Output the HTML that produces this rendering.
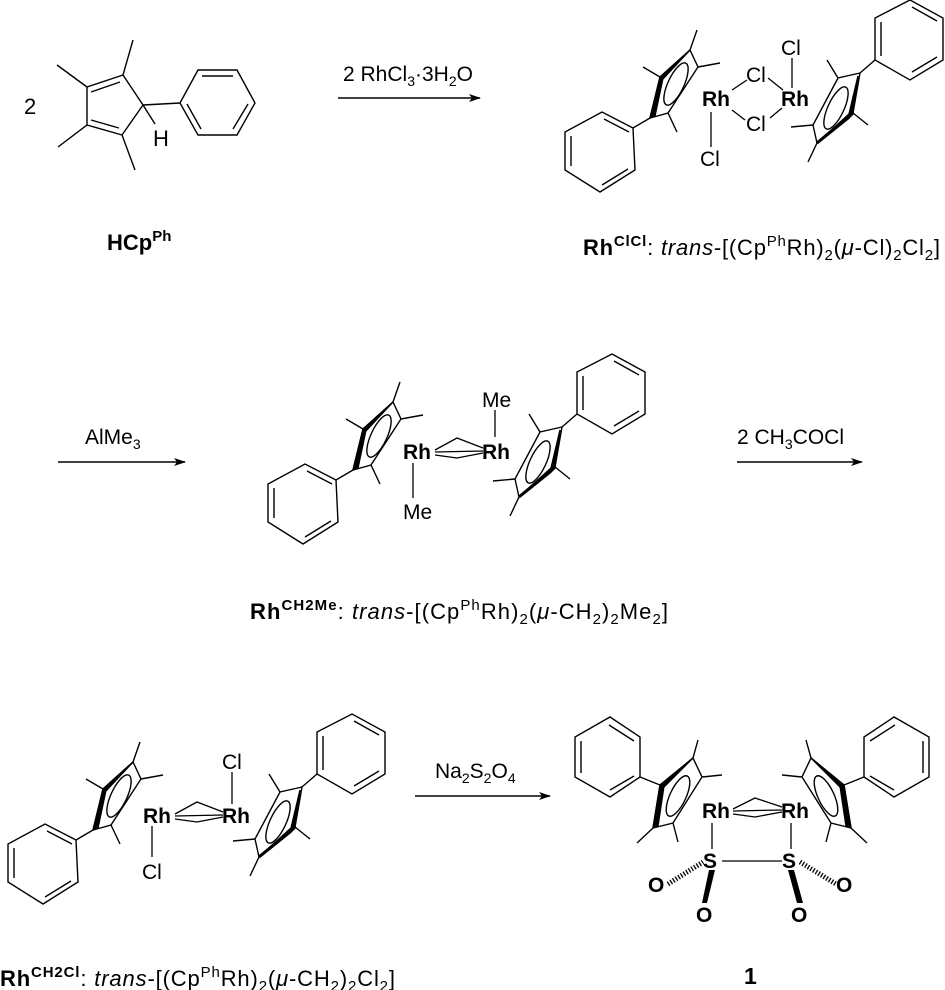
<!DOCTYPE html>
<html><head><meta charset="utf-8"><style>
html,body{margin:0;padding:0;background:#fff;}
svg{display:block;}
text{font-family:"Liberation Sans",Arial,sans-serif;fill:#000;}
.b{font-weight:bold;}
</style></head><body>
<svg width="945" height="990" viewBox="0 0 945 990" xmlns="http://www.w3.org/2000/svg">
<defs>
<marker id="ah" markerWidth="12" markerHeight="8" refX="11" refY="4" orient="auto" markerUnits="userSpaceOnUse">
<path d="M0,0 L12,4 L0,8 L3,4 Z" fill="#000"/></marker>
<g id="uL" stroke="#000" stroke-width="1.4" fill="none">
<polygon points="690,50 698,67 668,113 650,118 660,77"/>
<path d="M660,77 L650,118 L655,116 L663,78 Z" fill="#000"/>
<path d="M660,77 L690,50 L662,80 Z" fill="#000"/>
<ellipse cx="676" cy="84" rx="8" ry="23" transform="rotate(25 676 84)"/>
<line x1="690" y1="50" x2="697" y2="30"/>
<line x1="698" y1="67" x2="720" y2="63"/>
<line x1="660" y1="77" x2="643" y2="67"/>
<line x1="668" y1="113" x2="677" y2="132"/>
<line x1="650" y1="118" x2="633" y2="128"/>
<polygon points="633,128 602,112 565,132 565,170 600,192 635,170"/>
<line x1="604" y1="119" x2="629" y2="132"/>
<line x1="571" y1="136" x2="571" y2="166"/>
<line x1="602" y1="185" x2="628" y2="169"/>
</g>
<g id="uR" stroke="#000" stroke-width="1.4" fill="none">
<polygon points="860,73 838,78 813,125 817,143 853,113"/>
<path d="M817,143 L853,113 L858,76 L849,114 Z" fill="#000"/>
<path d="M817,143 L853,113 L848,118 Z" fill="#000" stroke-width="3"/>
<ellipse cx="836" cy="108" rx="8" ry="23" transform="rotate(25 836 108)"/>
<line x1="838" y1="78" x2="827" y2="60"/>
<line x1="813" y1="125" x2="791" y2="127"/>
<line x1="817" y1="143" x2="808" y2="162"/>
<line x1="853" y1="113" x2="868" y2="125"/>
<line x1="860" y1="73" x2="875" y2="60"/>
<polygon points="875,60 875,18 910,0 943,18 943,60 910,80"/>
<line x1="881" y1="56" x2="881" y2="22"/>
<line x1="912" y1="7" x2="937" y2="21"/>
<line x1="937" y1="57" x2="912" y2="72"/>
</g>
<g id="u1" stroke="#000" stroke-width="1.4" fill="none">
<polygon points="660,785 693,758 702,777 673,823 653,828"/>
<path d="M660,785 L653,828 L658,826 L664,786 Z" fill="#000"/>
<path d="M660,785 L693,758 L662,789 Z" fill="#000"/>
<ellipse cx="678" cy="796" rx="8" ry="22" transform="rotate(25 678 796)"/>
<line x1="693" y1="758" x2="698" y2="740"/>
<line x1="702" y1="777" x2="722" y2="775"/>
<line x1="673" y1="823" x2="678" y2="842"/>
<line x1="653" y1="828" x2="637" y2="843"/>
<line x1="660" y1="785" x2="640" y2="777"/>
<polygon points="640,777 640,737 610,717 575,737 575,777 610,797"/>
<line x1="634" y1="741" x2="609" y2="725"/>
<line x1="581" y1="741" x2="581" y2="773"/>
<line x1="610" y1="790" x2="634" y2="776"/>
</g>
</defs>

<!-- HCpPh -->
<text x="24" y="114" font-size="22">2</text>
<g stroke="#000" stroke-width="1.4" fill="none">
<polygon points="123,75 87,87 87,125 122,135 143,105"/>
<line x1="91" y1="92" x2="120" y2="82"/>
<line x1="91" y1="120" x2="119" y2="128"/>
<line x1="123" y1="75" x2="133" y2="40"/>
<line x1="87" y1="87" x2="57" y2="65"/>
<line x1="87" y1="125" x2="58" y2="147"/>
<line x1="122" y1="135" x2="135" y2="170"/>
<line x1="143" y1="105" x2="180" y2="103"/>
<line x1="143" y1="105" x2="155" y2="124"/>
<polygon points="180,103 198,70 237,70 255,103 237,135 198,135"/>
<line x1="202" y1="76" x2="233" y2="76"/>
<line x1="248" y1="104" x2="233" y2="129"/>
<line x1="187" y1="104" x2="201" y2="129"/>
</g>
<text x="153" y="146" font-size="22">H</text>
<text x="107" y="250" font-size="22" class="b">HCp<tspan font-size="15" dy="-9">Ph</tspan></text>

<!-- arrow 1 -->
<text x="343" y="81" font-size="21">2 RhCl<tspan font-size="14" dy="5">3</tspan><tspan dy="-5">·3H</tspan><tspan font-size="14" dy="5">2</tspan><tspan dy="-5">O</tspan></text>
<line x1="338" y1="98" x2="480" y2="98" stroke="#000" stroke-width="1.4" marker-end="url(#ah)"/>

<!-- RhClCl -->
<use href="#uL"/>
<use href="#uR"/>
<g stroke="#000" stroke-width="1.3">
<line x1="732" y1="90" x2="747" y2="80"/>
<line x1="768" y1="78" x2="783" y2="90"/>
<line x1="732" y1="110" x2="745" y2="120"/>
<line x1="770" y1="118" x2="782" y2="108"/>
<line x1="792" y1="58" x2="792" y2="88"/>
<line x1="711" y1="112" x2="711" y2="147"/>
</g>
<text x="702" y="106" font-size="21" class="b">Rh</text>
<text x="781" y="106" font-size="21" class="b">Rh</text>
<text x="781" y="55" font-size="21">Cl</text>
<text x="746" y="82" font-size="21">Cl</text>
<text x="746" y="131" font-size="21">Cl</text>
<text x="700" y="166" font-size="21">Cl</text>
<text x="583" y="255" font-size="22" textLength="357"><tspan class="b">Rh<tspan font-size="15" dy="-9">ClCl</tspan></tspan><tspan dy="9">: </tspan><tspan font-style="italic">trans</tspan>-[(Cp<tspan font-size="15" dy="-9">Ph</tspan><tspan dy="9">Rh)</tspan><tspan font-size="15" dy="5">2</tspan><tspan dy="-5">(</tspan><tspan font-style="italic">μ</tspan>-Cl)<tspan font-size="15" dy="5">2</tspan><tspan dy="-5">Cl</tspan><tspan font-size="15" dy="5">2</tspan><tspan dy="-5">]</tspan></text>

<!-- arrow 2 -->
<text x="85" y="444" font-size="21">AlMe<tspan font-size="14" dy="5">3</tspan></text>
<line x1="58" y1="462" x2="185" y2="462" stroke="#000" stroke-width="1.4" marker-end="url(#ah)"/>

<!-- RhCH2Me -->
<use href="#uL" transform="translate(-297,352)"/>
<use href="#uR" transform="translate(-298,354)"/>
<g stroke="#000" stroke-width="1.3" fill="none">
<polyline points="435,450 457,438 483,448"/>
<polyline points="435,455 457,458 483,453"/>
<line x1="435" y1="452" x2="483" y2="451"/>
<line x1="495" y1="410" x2="495" y2="437"/>
<line x1="413" y1="463" x2="413" y2="498"/>
</g>
<text x="403" y="459" font-size="21" class="b">Rh</text>
<text x="482" y="459" font-size="21" class="b">Rh</text>
<text x="482" y="407" font-size="21">Me</text>
<text x="403" y="519" font-size="21">Me</text>
<text x="250" y="619" font-size="22" textLength="418"><tspan class="b">Rh<tspan font-size="15" dy="-9">CH2Me</tspan></tspan><tspan dy="9">: </tspan><tspan font-style="italic">trans</tspan>-[(Cp<tspan font-size="15" dy="-9">Ph</tspan><tspan dy="9">Rh)</tspan><tspan font-size="15" dy="5">2</tspan><tspan dy="-5">(</tspan><tspan font-style="italic">μ</tspan>-CH<tspan font-size="15" dy="5">2</tspan><tspan dy="-5">)</tspan><tspan font-size="15" dy="5">2</tspan><tspan dy="-5">Me</tspan><tspan font-size="15" dy="5">2</tspan><tspan dy="-5">]</tspan></text>

<!-- arrow 3 -->
<text x="737" y="444" font-size="21">2 CH<tspan font-size="14" dy="5">3</tspan><tspan dy="-5">COCl</tspan></text>
<line x1="737" y1="462" x2="862" y2="462" stroke="#000" stroke-width="1.4" marker-end="url(#ah)"/>

<!-- RhCH2Cl -->
<use href="#uL" transform="translate(-557,712)"/>
<use href="#uR" transform="translate(-558,714)"/>
<g stroke="#000" stroke-width="1.3" fill="none">
<polyline points="175,814 197,802 223,812"/>
<polyline points="175,819 197,822 223,817"/>
<line x1="175" y1="816" x2="223" y2="815"/>
<line x1="232" y1="772" x2="232" y2="804"/>
<line x1="152" y1="826" x2="152" y2="857"/>
</g>
<text x="143" y="823" font-size="21" class="b">Rh</text>
<text x="222" y="823" font-size="21" class="b">Rh</text>
<text x="222" y="769" font-size="21">Cl</text>
<text x="142" y="879" font-size="21">Cl</text>
<text x="0" y="986" font-size="22" textLength="395"><tspan class="b">Rh<tspan font-size="15" dy="-9">CH2Cl</tspan></tspan><tspan dy="9">: </tspan><tspan font-style="italic">trans</tspan>-[(Cp<tspan font-size="15" dy="-9">Ph</tspan><tspan dy="9">Rh)</tspan><tspan font-size="15" dy="5">2</tspan><tspan dy="-5">(</tspan><tspan font-style="italic">μ</tspan>-CH<tspan font-size="15" dy="5">2</tspan><tspan dy="-5">)</tspan><tspan font-size="15" dy="5">2</tspan><tspan dy="-5">Cl</tspan><tspan font-size="15" dy="5">2</tspan><tspan dy="-5">]</tspan></text>

<!-- arrow 4 -->
<text x="435" y="778" font-size="21">Na<tspan font-size="14" dy="5">2</tspan><tspan dy="-5">S</tspan><tspan font-size="14" dy="5">2</tspan><tspan dy="-5">O</tspan><tspan font-size="14" dy="5">4</tspan></text>
<line x1="415" y1="796" x2="550" y2="796" stroke="#000" stroke-width="1.4" marker-end="url(#ah)"/>

<!-- compound 1 -->
<use href="#u1"/>
<use href="#u1" transform="translate(1504,0) scale(-1,1)"/>
<g stroke="#000" stroke-width="1.3" fill="none">
<polyline points="733,809 755,798 782,807"/>
<polyline points="733,814 755,817 782,812"/>
<line x1="733" y1="811" x2="782" y2="810"/>
<line x1="712" y1="823" x2="712" y2="849"/>
<line x1="791" y1="823" x2="791" y2="849"/>
<line x1="722" y1="861" x2="782" y2="861"/>
<line x1="668" y1="884" x2="703" y2="862" stroke-dasharray="1.3 1.8" stroke-width="5"/>
<line x1="800" y1="862" x2="836" y2="884" stroke-dasharray="1.3 1.8" stroke-width="5"/>
</g>
<path d="M709,870 L715,870 L707,903 L702,903 Z" fill="#000"/>
<path d="M788,870 L794,870 L803,903 L797,903 Z" fill="#000"/>
<text x="703" y="868" font-size="21" class="b">S</text>
<text x="782" y="868" font-size="21" class="b">S</text>
<text x="702" y="818" font-size="21" class="b">Rh</text>
<text x="781" y="818" font-size="21" class="b">Rh</text>
<text x="648" y="892" font-size="21" class="b">O</text>
<text x="696" y="922" font-size="21" class="b">O</text>
<text x="791" y="922" font-size="21" class="b">O</text>
<text x="836" y="892" font-size="21" class="b">O</text>
<text x="744" y="984" font-size="23" class="b">1</text>
</svg>
</body></html>
